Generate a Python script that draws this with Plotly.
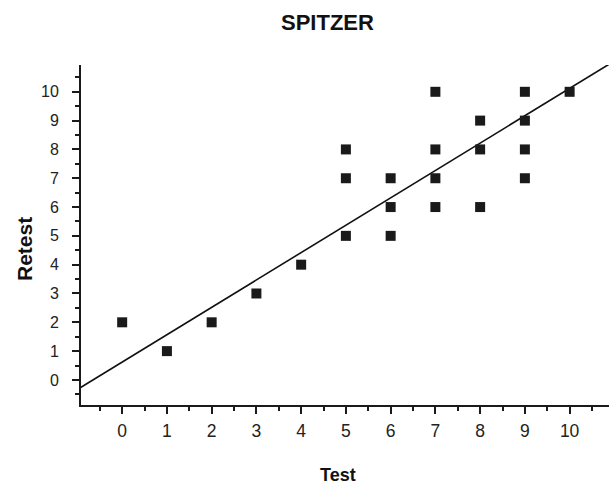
import plotly.graph_objects as go

test_scores = [0, 1, 2, 3, 4, 5, 5, 5, 6, 6, 6, 7, 7, 7, 7, 8, 8, 8, 9, 9, 9, 9, 10]
retest_scores = [2, 1, 2, 3, 4, 8, 7, 5, 7, 6, 5, 10, 8, 7, 6, 9, 8, 6, 10, 9, 8, 7, 10]
line_intercept = 0.62
line_slope = 0.95
line_x = [-1, 11]
line_y = [line_intercept + line_slope * v for v in line_x]
tick_values = list(range(0, 11))
tick_labels = [str(v) for v in tick_values]

W, H = 609, 484
ML, MR, MT, MB = 81, 0, 65, 79
PW, PH = W - ML - MR, H - MT - MB
FONT = "Liberation Sans, Arial, sans-serif"

fig = go.Figure()
fig.add_trace(go.Scatter(x=line_x, y=line_y, mode="lines",
                         line=dict(color="#111111", width=1.6), hoverinfo="skip"))
fig.add_trace(go.Scatter(x=test_scores, y=retest_scores, mode="markers",
                         marker=dict(symbol="square", size=10, color="#1a1a1a",
                                     line=dict(width=0))))

def axis_style(standoff, fsize):
    return dict(
        showline=True, linecolor="#1a1a1a", linewidth=2,
        ticks="outside", ticklen=7, tickwidth=2, tickcolor="#1a1a1a",
        tickvals=tick_values, ticktext=tick_labels,
        minor=dict(ticks="outside", ticklen=4, tickwidth=2, tickcolor="#1a1a1a",
                   dtick=0.5, tick0=0.5, showgrid=False),
        showgrid=False, zeroline=False,
        tickfont=dict(family=FONT, size=fsize, color="#222222"),
        ticklabelstandoff=standoff,
    )

fig.update_layout(
    width=W, height=H,
    margin=dict(l=ML, r=MR, t=MT, b=MB, pad=0),
    paper_bgcolor="white", plot_bgcolor="white",
    showlegend=False,
    xaxis=dict(range=[-0.92, 10.88], **axis_style(2, 17.5)),
    yaxis=dict(range=[-0.87, 10.93], **axis_style(10, 16)),
    annotations=[
        dict(text="<b>SPITZER</b>", xref="paper", yref="paper",
             x=(327 - ML) / PW, y=1 + (MT - 22) / PH,
             xanchor="center", yanchor="middle", showarrow=False,
             font=dict(family=FONT, size=22, color="#111111")),
        dict(text="<b>Test</b>", xref="paper", yref="paper",
             x=(338 - ML) / PW, y=-(475 - (H - MB)) / PH,
             xanchor="center", yanchor="middle", showarrow=False,
             font=dict(family=FONT, size=18, color="#111111")),
        dict(text="<b>Retest</b>", xref="paper", yref="paper",
             x=-(ML - 24) / PW, y=(H - MB - 249) / PH,
             xanchor="center", yanchor="middle", showarrow=False, textangle=-90,
             font=dict(family=FONT, size=21, color="#111111")),
    ],
)

fig.write_html("out.html", config={"displayModeBar": False},
               post_script="document.body.style.margin='0';document.body.style.overflow='hidden';")
